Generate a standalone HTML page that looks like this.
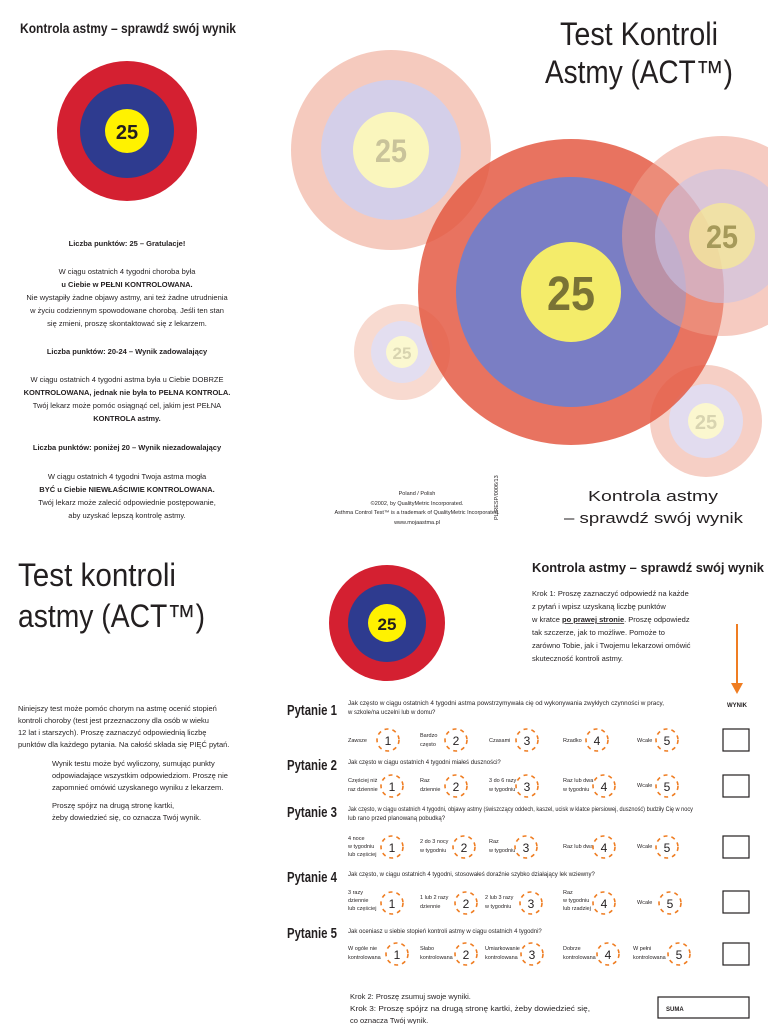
<!DOCTYPE html>
<html><head><meta charset="utf-8"><style>
html,body{margin:0;padding:0;background:#fff;}
svg{display:block;}
text{font-family:"Liberation Sans Narrow","Liberation Sans",sans-serif;fill:#231f20;}
.b{font-weight:bold;}
.s{font-size:7.5px;}
.t{font-size:6px;}
.n{font-size:12px;text-anchor:middle;}
.c{text-anchor:middle;}
</style></head><body>
<svg width="768" height="1024" viewBox="0 0 768 1024" xmlns="http://www.w3.org/2000/svg">
<rect width="768" height="1024" fill="#fff"/>
<!-- TOP LEFT -->
<text x="20" y="33" class="b" font-size="14" textLength="216" lengthAdjust="spacingAndGlyphs">Kontrola astmy – sprawdź swój wynik</text>
<circle cx="127" cy="131" r="70" fill="#d42031"/>
<circle cx="127" cy="131" r="47" fill="#2e3b8f"/>
<circle cx="127" cy="131" r="22" fill="#fff200"/>
<text x="127" y="139" class="b c" font-size="20">25</text>
<g class="s" text-anchor="middle">
<text x="127" y="246" class="b c">Liczba punktów: 25 – Gratulacje!</text>
<text x="127" y="274" class="c">W ciągu ostatnich 4 tygodni choroba była</text>
<text x="127" y="287" class="b c">u Ciebie w PEŁNI KONTROLOWANA.</text>
<text x="127" y="300" class="c">Nie wystąpiły żadne objawy astmy, ani też żadne utrudnienia</text>
<text x="127" y="313" class="c">w życiu codziennym spowodowane chorobą. Jeśli ten stan</text>
<text x="127" y="326" class="c">się zmieni, proszę skontaktować się z lekarzem.</text>
<text x="127" y="354" class="b c">Liczba punktów: 20-24 – Wynik zadowalający</text>
<text x="127" y="382" class="c">W ciągu ostatnich 4 tygodni astma była u Ciebie DOBRZE</text>
<text x="127" y="395" class="b c">KONTROLOWANA, jednak nie była to PEŁNA KONTROLA.</text>
<text x="127" y="408" class="c">Twój lekarz może pomóc osiągnąć cel, jakim jest PEŁNA</text>
<text x="127" y="421" class="b c">KONTROLA astmy.</text>
<text x="127" y="450" class="b c">Liczba punktów: poniżej 20 – Wynik niezadowalający</text>
<text x="127" y="479" class="c">W ciągu ostatnich 4 tygodni Twoja astma mogła</text>
<text x="127" y="492" class="b c">BYĆ u Ciebie NIEWŁAŚCIWIE KONTROLOWANA.</text>
<text x="127" y="505" class="c">Twój lekarz może zalecić odpowiednie postępowanie,</text>
<text x="127" y="518" class="c">aby uzyskać lepszą kontrolę astmy.</text>
</g>
<!-- TOP RIGHT circles -->
<g>
<circle cx="391" cy="150" r="100" fill="#f2b8a8" opacity="0.75"/>
<circle cx="391" cy="150" r="70" fill="#d4cfe9"/>
<circle cx="391" cy="150" r="38" fill="#faf6bd"/>
<text x="391" y="162" class="b c" font-size="32" style="fill:#c9c39a" textLength="32" lengthAdjust="spacingAndGlyphs">25</text>
<circle cx="402" cy="352" r="48" fill="#f7d3c8" opacity="0.85"/>
<circle cx="402" cy="352" r="31" fill="#e3def0"/>
<circle cx="402" cy="352" r="16" fill="#fbf8d0"/>
<text x="402" y="359" class="b c" font-size="17" style="fill:#d8d4b0">25</text>
<circle cx="706" cy="421" r="56" fill="#f4c3b6" opacity="0.8"/>
<circle cx="706" cy="421" r="37" fill="#e2dcef"/>
<circle cx="706" cy="421" r="18" fill="#fbf7cf"/>
<text x="706" y="429" class="b c" font-size="20" style="fill:#d8d4b0">25</text>
<circle cx="571" cy="292" r="153" fill="#e3543d" opacity="0.82"/>
<circle cx="571" cy="292" r="115" fill="#7a7ec4"/>
<circle cx="571" cy="292" r="50" fill="#f4ec6a"/>
<text x="571" y="310" class="b c" font-size="48" style="fill:#7a7335" textLength="48" lengthAdjust="spacingAndGlyphs">25</text>
<circle cx="722" cy="236" r="100" fill="#eea08e" opacity="0.55"/>
<circle cx="722" cy="236" r="67" fill="#c9c3e6" opacity="0.6"/>
<circle cx="722" cy="236" r="33" fill="#f7ea96" opacity="0.75"/>
<text x="722" y="248" class="b c" font-size="32" style="fill:#a69a5a" textLength="32" lengthAdjust="spacingAndGlyphs">25</text>
</g>
<text x="560" y="45" font-size="32" textLength="158" lengthAdjust="spacingAndGlyphs">Test Kontroli</text>
<text x="545" y="83" font-size="32" textLength="188" lengthAdjust="spacingAndGlyphs">Astmy (ACT™)</text>
<text x="588" y="501" font-size="15" textLength="130" lengthAdjust="spacingAndGlyphs">Kontrola astmy</text>
<text x="564" y="523" font-size="15" textLength="179" lengthAdjust="spacingAndGlyphs">– sprawdź swój wynik</text>
<g font-size="5.5">
<text x="417" y="495" class="c">Poland / Polish</text>
<text x="417" y="505" class="c">©2002, by QualityMetric Incorporated.</text>
<text x="417" y="514" class="c">Asthma Control Test™ is a trademark of QualityMetric Incorporated.</text>
<text x="417" y="524" class="c">www.mojaastma.pl</text>
</g>
<text transform="translate(498,520) rotate(-90)" font-size="5.5">PL/RESP/0006/13</text>
<!-- BOTTOM LEFT -->
<text x="18" y="586" font-size="32" textLength="158" lengthAdjust="spacingAndGlyphs">Test kontroli</text>
<text x="18" y="627" font-size="32" textLength="187" lengthAdjust="spacingAndGlyphs">astmy (ACT™)</text>
<g class="s">
<text x="18" y="711">Niniejszy test może pomóc chorym na astmę ocenić stopień</text>
<text x="18" y="723">kontroli choroby (test jest przeznaczony dla osób w wieku</text>
<text x="18" y="735">12 lat i starszych). Proszę zaznaczyć odpowiednią liczbę</text>
<text x="18" y="747">punktów dla każdego pytania. Na całość składa się PIĘĆ pytań.</text>
<text x="52" y="766">Wynik testu może być wyliczony, sumując punkty</text>
<text x="52" y="778">odpowiadające wszystkim odpowiedziom. Proszę nie</text>
<text x="52" y="790">zapomnieć omówić uzyskanego wyniku z lekarzem.</text>
<text x="52" y="808">Proszę spójrz na drugą stronę kartki,</text>
<text x="52" y="820">żeby dowiedzieć się, co oznacza Twój wynik.</text>
</g>
<circle cx="387" cy="623" r="58" fill="#d42031"/>
<circle cx="387" cy="623" r="39" fill="#2e3b8f"/>
<circle cx="387" cy="623" r="19" fill="#fff200"/>
<text x="387" y="630" class="b c" font-size="17">25</text>
<!-- BOTTOM RIGHT -->
<text x="532" y="572" class="b" font-size="13" textLength="232" lengthAdjust="spacingAndGlyphs">Kontrola astmy – sprawdź swój wynik</text>
<g class="s">
<text x="532" y="596">Krok 1: Proszę zaznaczyć odpowiedź na każde</text>
<text x="532" y="609">z pytań i wpisz uzyskaną liczbę punktów</text>
<text x="532" y="622">w kratce <tspan text-decoration="underline" font-weight="bold">po prawej stronie</tspan>. Proszę odpowiedz</text>
<text x="532" y="635">tak szczerze, jak to możliwe. Pomoże to</text>
<text x="532" y="648">zarówno Tobie, jak i Twojemu lekarzowi omówić</text>
<text x="532" y="661">skuteczność kontroli astmy.</text>
</g>
<line x1="737" y1="624" x2="737" y2="684" stroke="#ef7d22" stroke-width="2"/>
<polygon points="731,683 743,683 737,694" fill="#ef7d22"/>
<text x="737" y="707" class="b c t">WYNIK</text>
<g class="b" font-size="15">
<text x="287" y="715" textLength="50" lengthAdjust="spacingAndGlyphs">Pytanie 1</text>
<text x="287" y="770" textLength="50" lengthAdjust="spacingAndGlyphs">Pytanie 2</text>
<text x="287" y="817" textLength="50" lengthAdjust="spacingAndGlyphs">Pytanie 3</text>
<text x="287" y="882" textLength="50" lengthAdjust="spacingAndGlyphs">Pytanie 4</text>
<text x="287" y="938" textLength="50" lengthAdjust="spacingAndGlyphs">Pytanie 5</text>
</g>
<g class="t">
<text x="348" y="705" textLength="316" lengthAdjust="spacingAndGlyphs">Jak często w ciągu ostatnich 4 tygodni astma powstrzymywała cię od wykonywania zwykłych czynności w pracy,</text>
<text x="348" y="714">w szkole/na uczelni lub w domu?</text>
<text x="348" y="764">Jak często w ciągu ostatnich 4 tygodni miałeś duszności?</text>
<text x="348" y="811" textLength="345" lengthAdjust="spacingAndGlyphs">Jak często, w ciągu ostatnich 4 tygodni, objawy astmy (świszczący oddech, kaszel, ucisk w klatce piersiowej, duszność) budziły Cię w nocy</text>
<text x="348" y="820">lub rano przed planowaną pobudką?</text>
<text x="348" y="876">Jak często, w ciągu ostatnich 4 tygodni, stosowałeś doraźnie szybko działający lek wziewny?</text>
<text x="348" y="933">Jak oceniasz u siebie stopień kontroli astmy w ciągu ostatnich 4 tygodni?</text>
</g>
<g font-size="5.5">
<text x="348" y="742">Zawsze</text><text x="420" y="737">Bardzo</text><text x="420" y="746">często</text>
<text x="489" y="742">Czasami</text><text x="563" y="742">Rzadko</text><text x="637" y="742">Wcale</text>
<text x="348" y="782">Częściej niż</text><text x="348" y="791">raz dziennie</text>
<text x="420" y="782">Raz</text><text x="420" y="791">dziennie</text>
<text x="489" y="782">3 do 6 razy</text><text x="489" y="791">w tygodniu</text>
<text x="563" y="782">Raz lub dwa</text><text x="563" y="791">w tygodniu</text><text x="637" y="787">Wcale</text>
<text x="348" y="840">4 noce</text><text x="348" y="848">w tygodniu</text><text x="348" y="856">lub częściej</text>
<text x="420" y="843">2 do 3 nocy</text><text x="420" y="852">w tygodniu</text>
<text x="489" y="843">Raz</text><text x="489" y="852">w tygodniu</text>
<text x="563" y="848">Raz lub dwa</text><text x="637" y="848">Wcale</text>
<text x="348" y="894">3 razy</text><text x="348" y="902">dziennie</text><text x="348" y="910">lub częściej</text>
<text x="420" y="899">1 lub 2 razy</text><text x="420" y="908">dziennie</text>
<text x="485" y="899">2 lub 3 razy</text><text x="485" y="908">w tygodniu</text>
<text x="563" y="894">Raz</text><text x="563" y="902">w tygodniu</text><text x="563" y="910">lub rzadziej</text>
<text x="637" y="904">Wcale</text>
<text x="348" y="950">W ogóle nie</text><text x="348" y="959">kontrolowana</text>
<text x="420" y="950">Słabo</text><text x="420" y="959">kontrolowana</text>
<text x="485" y="950">Umiarkowanie</text><text x="485" y="959">kontrolowana</text>
<text x="563" y="950">Dobrze</text><text x="563" y="959">kontrolowana</text>
<text x="633" y="950">W pełni</text><text x="633" y="959">kontrolowana</text>
</g>
<g fill="none" stroke="#ef7d22" stroke-width="1.6" stroke-dasharray="4 4">
<circle cx="388" cy="740" r="11"/><circle cx="456" cy="740" r="11"/><circle cx="527" cy="740" r="11"/><circle cx="597" cy="740" r="11"/><circle cx="667" cy="740" r="11"/>
<circle cx="392" cy="786" r="11"/><circle cx="456" cy="786" r="11"/><circle cx="527" cy="786" r="11"/><circle cx="604" cy="786" r="11"/><circle cx="667" cy="786" r="11"/>
<circle cx="392" cy="847" r="11"/><circle cx="464" cy="847" r="11"/><circle cx="526" cy="847" r="11"/><circle cx="604" cy="847" r="11"/><circle cx="667" cy="847" r="11"/>
<circle cx="392" cy="903" r="11"/><circle cx="466" cy="903" r="11"/><circle cx="531" cy="903" r="11"/><circle cx="604" cy="903" r="11"/><circle cx="670" cy="903" r="11"/>
<circle cx="397" cy="954" r="11"/><circle cx="466" cy="954" r="11"/><circle cx="532" cy="954" r="11"/><circle cx="608" cy="954" r="11"/><circle cx="679" cy="954" r="11"/>
</g>
<g class="n" font-size="12">
<text x="388" y="745" class="c">1</text><text x="456" y="745" class="c">2</text><text x="527" y="745" class="c">3</text><text x="597" y="745" class="c">4</text><text x="667" y="745" class="c">5</text>
<text x="392" y="791" class="c">1</text><text x="456" y="791" class="c">2</text><text x="527" y="791" class="c">3</text><text x="604" y="791" class="c">4</text><text x="667" y="791" class="c">5</text>
<text x="392" y="852" class="c">1</text><text x="464" y="852" class="c">2</text><text x="526" y="852" class="c">3</text><text x="604" y="852" class="c">4</text><text x="667" y="852" class="c">5</text>
<text x="392" y="908" class="c">1</text><text x="466" y="908" class="c">2</text><text x="531" y="908" class="c">3</text><text x="604" y="908" class="c">4</text><text x="670" y="908" class="c">5</text>
<text x="397" y="959" class="c">1</text><text x="466" y="959" class="c">2</text><text x="532" y="959" class="c">3</text><text x="608" y="959" class="c">4</text><text x="679" y="959" class="c">5</text>
</g>
<g fill="#fff" stroke="#231f20" stroke-width="1.2">
<rect x="723" y="729" width="26" height="22"/>
<rect x="723" y="775" width="26" height="22"/>
<rect x="723" y="836" width="26" height="22"/>
<rect x="723" y="891" width="26" height="22"/>
<rect x="723" y="943" width="26" height="22"/>
<rect x="658" y="997" width="91" height="21"/>
</g>
<text x="666" y="1011" class="b t">SUMA</text>
<g class="s">
<text x="350" y="999">Krok 2: Proszę zsumuj swoje wyniki.</text>
<text x="350" y="1011" textLength="240" lengthAdjust="spacingAndGlyphs">Krok 3:  Proszę spójrz na drugą stronę kartki, żeby dowiedzieć się,</text>
<text x="350" y="1023">co oznacza Twój wynik.</text>
</g>
</svg>
</body></html>
